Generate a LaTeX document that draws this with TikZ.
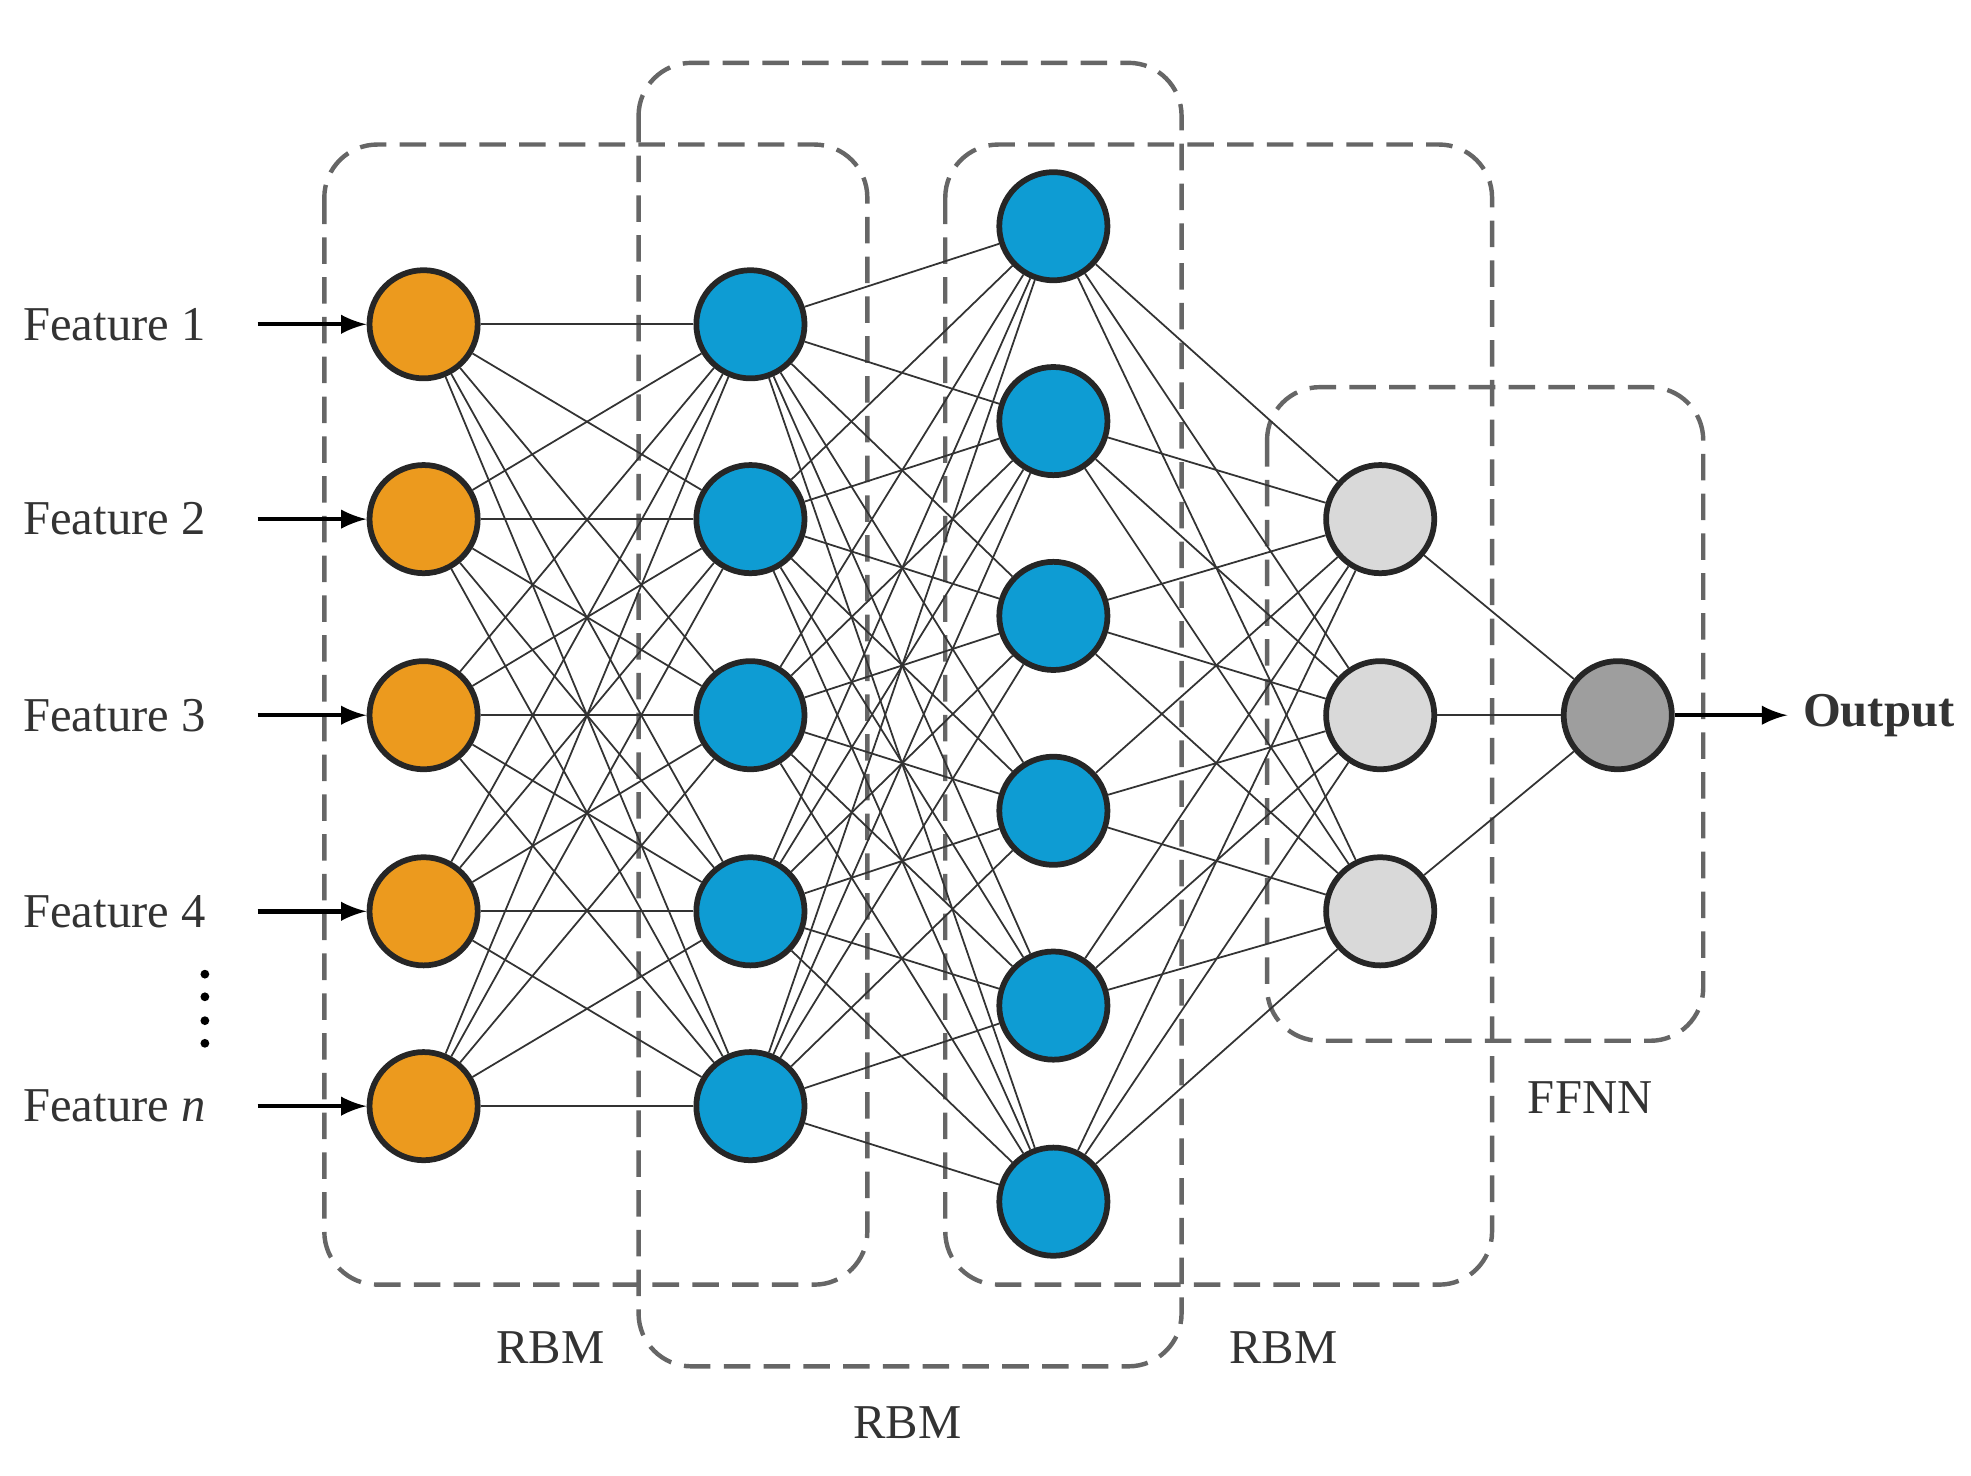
\documentclass[tikz,border=0pt]{standalone}
\usepackage{fontspec}
\setmainfont{Liberation Serif}
\begin{document}
\begin{tikzpicture}[x=0.01cm,y=-0.01cm,
  neu/.style={circle,draw=black!85,line width=1.3pt,minimum size=0.86cm,inner sep=0pt},
  lg/.style={neu,fill=black!15},
  dg/.style={neu,fill=black!38},
  con/.style={black!80,line width=0.4pt},
  box/.style={draw=black!60,line width=1pt,rounded corners=12pt,dash pattern=on 6pt off 3pt},
  lab/.style={font=\fontsize{11}{13}\selectfont,text=black!80}]
\useasboundingbox (0,0) rectangle (1568,1174);
\definecolor{orng}{HTML}{EC9A1E}\definecolor{blu}{HTML}{0E9CD3}
\draw[box] (258,115) rectangle (690,1022);
\draw[box] (508,50) rectangle (940,1087);
\draw[box] (752,115) rectangle (1187,1022);
\draw[box] (1008,308) rectangle (1355,828);
\foreach \y [count=\i] in {258,413,569,725,880}{
  \node[neu,fill=orng] (a\i) at (337,\y) {};
  \node[neu,fill=blu] (b\i) at (597,\y) {};}
\foreach \y [count=\i] in {180,335,490,645,800,956}
  \node[neu,fill=blu] (c\i) at (838,\y) {};
\foreach \y [count=\i] in {413,569,725}
  \node[lg] (d\i) at (1098,\y) {};
\node[dg] (o) at (1287,569) {};
\foreach \i in {1,...,5}{\foreach \j in {1,...,5}{\draw[con] (a\i) -- (b\j);}
  \foreach \j in {1,...,6}{\draw[con] (b\i) -- (c\j);}}
\foreach \i in {1,...,6}{\foreach \j in {1,...,3}{\draw[con] (c\i) -- (d\j);}}
\foreach \j in {1,...,3}{\draw[con] (d\j) -- (o);}
\foreach \y/\t [count=\i] in {258/1,413/2,569/3,725/4,880/{\textit{n}}}{
  \node[lab,anchor=east] (f\i) at (176,\y) {Feature \t};
  \coordinate (s\i) at (205,\y);
  \draw[-latex,line width=1pt] (s\i) -- (a\i.west);}
\node[lab,anchor=west,font=\fontsize{11}{13}\selectfont\bfseries] (out) at (1422,569) {Output};
\draw[-latex,line width=1pt] (o) -- (out.west);
\foreach \y in {775,793,812,830}\fill (163,\y) circle (3.5);
\node[lab] (r1) at (438,1072) {RBM};
\node[lab] (r2) at (722,1132) {RBM};
\node[lab] (r3) at (1021,1072) {RBM};
\node[lab] (ff) at (1265,873) {FFNN};
\end{tikzpicture}
\end{document}
